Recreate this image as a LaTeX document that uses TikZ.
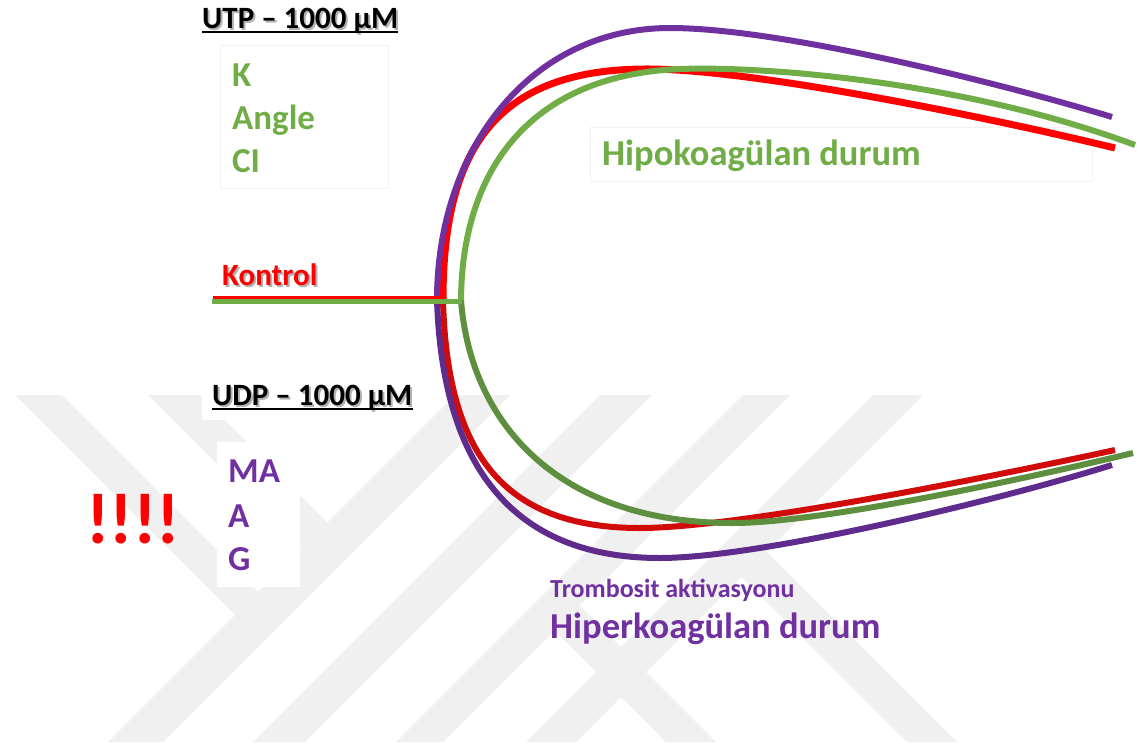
\documentclass[tikz,border=0pt]{standalone}
\usepackage{fontspec}
\setmainfont{Carlito}
\definecolor{ppl}{HTML}{7030A0}
\definecolor{pplD}{HTML}{5F2B8C}
\definecolor{rd}{HTML}{FF0000}
\definecolor{rdD}{HTML}{D10A0A}
\definecolor{grn}{HTML}{70AD47}
\definecolor{grnD}{HTML}{5E8F3E}
\definecolor{wm}{HTML}{F0F0F0}
\tikzset{
  curve/.style={line width=6pt, line cap=butt},
  lbl/.style={inner sep=0pt, anchor=base west},
  head/.style={lbl, font=\bfseries\fontsize{31}{36}\selectfont},
  shadowtxt/.style={text=black!30},
  big/.style={lbl, font=\bfseries\fontsize{36.5}{40}\selectfont},
  mid/.style={lbl, font=\bfseries\fontsize{35}{38}\selectfont},
  faintbox/.style={draw=black!5, fill=white, line width=0.6pt},
  whitebox/.style={fill=white},
  wmark/.style={fill=wm}
}
\begin{document}
\begin{tikzpicture}[x=1pt,y=-1pt]
\useasboundingbox (0,0) rectangle (1138,742);
\fill[white] (0,0) rectangle (1138,742);

% watermark
\fill[wmark] (455,395) -- (510,395) -- (163,742) -- (108,742) -- cycle;
\fill[wmark] (600,395) -- (652,395) -- (305,742) -- (253,742) -- cycle;
\fill[wmark] (743,395) -- (790,395) -- (443,742) -- (396,742) -- cycle;
\fill[wmark] (873,395) -- (923,395) -- (576,742) -- (526,742) -- cycle;
\fill[wmark] (15,395) -- (62,395) -- (258.5,591.5) -- (235,615) -- cycle;
\fill[wmark] (148,395) -- (200,395) -- (327.5,522.5) -- (301.5,548.5) -- cycle;
\fill[wmark] (741.5,576.5) -- (766.5,551.5) -- (957,742) -- (907,742) -- cycle;
\fill[wmark] (554,630) -- (579,605) -- (716,742) -- (666,742) -- cycle;

% boxes
\draw[faintbox] (220,45) rectangle (388,188);
\draw[faintbox] (590,127) rectangle (1092,181);
\fill[whitebox] (202,375) rectangle (425,420);
\fill[whitebox] (217,442) rectangle (300,587);

% headings
\node[head, shadowtxt] (utpS) at (204,30) {UTP – 1000 μM};
\node[head] (utp) at (202,28) {UTP – 1000 μM};
\draw[line width=2pt] ([yshift=-4pt]utp.base west) -- ([yshift=-4pt]utp.base east);
\node[head, shadowtxt] (udpS) at (214,407) {UDP – 1000 μM};
\node[head] (udp) at (212,405) {UDP – 1000 μM};
\draw[line width=2pt] ([yshift=-4pt]udp.base west) -- ([yshift=-4pt]udp.base east);

\node[mid, text=grn] (k) at (232,86) {K};
\node[mid, text=grn] (angle) at (232,129) {Angle};
\node[mid, text=grn] (ci) at (232,172) {CI};

\node[head, shadowtxt] (kontrolS) at (224,287) {Kontrol};
\node[head, text=rd] (kontrol) at (222,285) {Kontrol};

\node[mid, text=ppl] (ma) at (228,482) {MA};
\node[mid, text=ppl] (a) at (228,527) {A};
\node[mid, text=ppl] (g) at (228,570) {G};

\node[lbl, font=\bfseries\fontsize{72}{76}\selectfont, text=rd] (excl) at (86,543) {!!!!};

\node[big, text=grn] (hipo) at (602,165) {Hipokoagülan durum};
\node[lbl, font=\bfseries\fontsize{26}{30}\selectfont, text=ppl] (tromb) at (550,597) {Trombosit aktivasyonu};
\node[big, text=ppl] (hiper) at (550,638) {Hiperkoagülan durum};

% curves (bottom)
\draw[curve, rdD] (443,300) .. controls (447,450) and (500,528) .. (640,528)
                            .. controls (740,528) and (1000,475) .. (1115,450);
\draw[curve, pplD] (437,300) .. controls (442,450) and (500,558) .. (660,558)
                            .. controls (760,558) and (1000,500) .. (1112,465);
\draw[curve, grnD] (461,300) .. controls (470,420) and (555,523) .. (733,523)
                            .. controls (820,523) and (1020,480) .. (1133,453);
% curves (top)
\draw[curve, rd, line width=7pt] (443,300) .. controls (443,150) and (495,68) .. (650,69)
                            .. controls (760,70) and (1000,120) .. (1115,148);
\draw[curve, ppl] (437,300) .. controls (437,150) and (530,28) .. (670,28)
                            .. controls (780,28) and (1000,83) .. (1112,117);
\draw[curve, grn] (461,300) .. controls (462,170) and (530,75) .. (680,69)
                            .. controls (760,66) and (960,80) .. (1135,145);

% control lines
\coordinate (rs) at (213,297);
\coordinate (re) at (441,297);
\coordinate (gs) at (212,301);
\coordinate (ge) at (462,301);
\draw[rd, line width=3pt] (rs) -- (re);
\draw[grn, line width=5pt] (gs) -- (ge);
\end{tikzpicture}
\end{document}
